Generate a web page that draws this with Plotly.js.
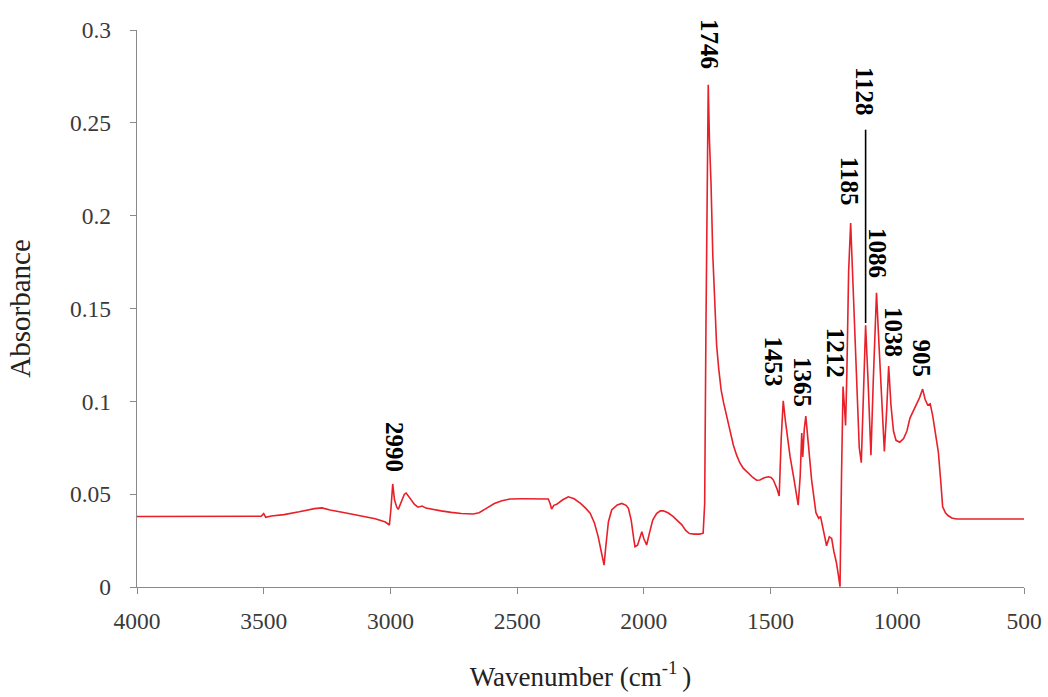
<!DOCTYPE html>
<html>
<head>
<meta charset="utf-8">
<script src="https://cdn.plot.ly/plotly-3.0.1.min.js"></script>
<style>html,body{margin:0;padding:0;background:#fff;}#chart{width:1048px;height:697px;}</style>
</head>
<body>
<div id="chart"></div>
<script>
// Spectrum data (wavenumber in cm-1, absorbance)
var wavenumber = [4000,3800,3600,3510,3500,3492,3470,3420,3360,3300,3270,3238,3180,3120,3060,3020,3004,2998,2991,2984,2975,2969,2958,2945,2938,2925,2905,2891,2875,2860,2844,2800,2760,2720,2673,2650,2620,2590,2560,2528,2480,2420,2377,2370,2364,2355,2344,2320,2298,2275,2250,2230,2212,2195,2180,2168,2157,2150,2140,2127,2105,2087,2070,2061,2050,2040,2035,2025,2016,2008,2000,1989,1978,1965,1950,1935,1923,1905,1885,1865,1850,1835,1820,1800,1780,1766,1760,1755,1750,1746,1741,1735,1728,1719,1713,1705,1695,1685,1673,1660,1647,1634,1621,1608,1594,1570,1555,1542,1525,1509,1498,1489,1475,1466,1458,1450,1442,1432,1423,1410,1400,1391,1383,1377,1373,1367,1361,1350,1338,1321,1310,1303,1295,1279,1268,1259,1250,1240,1232,1226,1220,1214,1208,1204,1199,1192,1184,1175,1160,1150,1142,1135,1125,1115,1104,1095,1082,1072,1060,1051,1042,1034,1025,1015,1005,990,975,962,950,940,925,912,900,890,880,870,860,850,838,828,821,810,800,785,766,700,600,500];
var absorbance = [0.0380,0.0380,0.0380,0.0381,0.0395,0.0375,0.0382,0.0390,0.0405,0.0422,0.0426,0.0415,0.0400,0.0385,0.0368,0.0350,0.0334,0.0420,0.0555,0.0470,0.0430,0.0418,0.0460,0.0500,0.0506,0.0480,0.0445,0.0430,0.0436,0.0425,0.0420,0.0410,0.0402,0.0396,0.0393,0.0400,0.0425,0.0450,0.0465,0.0474,0.0475,0.0474,0.0474,0.0450,0.0420,0.0440,0.0445,0.0470,0.0486,0.0475,0.0450,0.0425,0.0398,0.0345,0.0270,0.0190,0.0118,0.0220,0.0350,0.0415,0.0442,0.0450,0.0440,0.0424,0.0360,0.0260,0.0217,0.0225,0.0260,0.0298,0.0260,0.0226,0.0290,0.0360,0.0395,0.0410,0.0411,0.0400,0.0380,0.0355,0.0335,0.0305,0.0288,0.0285,0.0285,0.0290,0.0450,0.1400,0.2300,0.2705,0.2400,0.2175,0.1790,0.1500,0.1305,0.1180,0.1060,0.0990,0.0920,0.0840,0.0765,0.0710,0.0668,0.0640,0.0620,0.0590,0.0575,0.0576,0.0588,0.0594,0.0590,0.0576,0.0530,0.0490,0.0800,0.1003,0.0900,0.0790,0.0702,0.0600,0.0510,0.0441,0.0600,0.0829,0.0700,0.0850,0.0920,0.0760,0.0576,0.0400,0.0370,0.0380,0.0330,0.0222,0.0270,0.0262,0.0190,0.0130,0.0060,0.0002,0.0600,0.1080,0.0960,0.0870,0.1150,0.1700,0.1960,0.1650,0.1050,0.0750,0.0670,0.0950,0.1410,0.1100,0.0710,0.1100,0.1585,0.1300,0.0950,0.0730,0.0950,0.1190,0.0980,0.0840,0.0790,0.0780,0.0800,0.0840,0.0910,0.0940,0.0990,0.1020,0.1066,0.1010,0.0980,0.0986,0.0920,0.0840,0.0727,0.0560,0.0432,0.0400,0.0385,0.0372,0.0366,0.0366,0.0366,0.0366];

// Peak labels
var peakLabels = ["2990","1746","1453","1365","1212","1185","1128","1086","1038","905"];
// label placement (wavenumber, absorbance) of each label centre
var labelX = [2982,1739,1489,1374,1246,1191,1127,1078,1013,904];
var labelY = [0.0754,0.2924,0.1213,0.1107,0.1262,0.2183,0.2671,0.1802,0.1373,0.1233];

var xTickVals = [4000,3500,3000,2500,2000,1500,1000,500];
var yTickVals = [0,0.05,0.1,0.15,0.2,0.25,0.3];
var yTickText = ["0","0.05","0.1","0.15","0.2","0.25","0.3"];

var serif = "'Liberation Serif', 'Times New Roman', Times, serif";

var trace = {
  x: wavenumber, y: absorbance, type: 'scatter', mode: 'lines',
  line: {color: '#e8202a', width: 1.6}, hoverinfo: 'x+y'
};

var annotations = peakLabels.map(function(t, i){
  return {x: labelX[i], y: labelY[i], xref: 'x', yref: 'y', text: '<b>' + t + '</b>',
    showarrow: false, textangle: 90, xanchor: 'center', yanchor: 'middle',
    font: {family: serif, size: 25, color: '#000'}};
});

var layout = {
  width: 1048, height: 697,
  margin: {l: 137, r: 24, t: 30, b: 110},
  paper_bgcolor: '#fff', plot_bgcolor: '#fff',
  showlegend: false,
  xaxis: {
    range: [4000, 500], tickvals: xTickVals, ticks: 'outside', ticklen: 6, tickcolor: '#8a8a8a',
    showline: true, linecolor: '#8a8a8a', linewidth: 1.3, showgrid: false, zeroline: false,
    ticklabelstandoff: 6,
    tickfont: {family: serif, size: 23.5, color: '#3a3a3a'},
    title: {text: 'Wavenumber (cm<sup>-1 </sup>)', standoff: 34, font: {family: serif, size: 27, color: '#222'}}
  },
  yaxis: {
    range: [0, 0.3], tickvals: yTickVals, ticktext: yTickText, ticks: 'outside', ticklen: 6, tickcolor: '#8a8a8a',
    showline: true, linecolor: '#8a8a8a', linewidth: 1.3, showgrid: false, zeroline: false,
    ticklabelstandoff: 14,
    tickfont: {family: serif, size: 23.5, color: '#3a3a3a'},
    title: {text: 'Absorbance', standoff: 30, font: {family: serif, size: 29, color: '#222'}}
  },
  annotations: annotations,
  shapes: [{type: 'line', xref: 'x', yref: 'y', x0: 1125, x1: 1125, y0: 0.1422, y1: 0.2463,
    line: {color: '#000', width: 1.6}}]
};

Plotly.newPlot('chart', [trace], layout, {displayModeBar: false, staticPlot: true});
</script>
</body>
</html>
